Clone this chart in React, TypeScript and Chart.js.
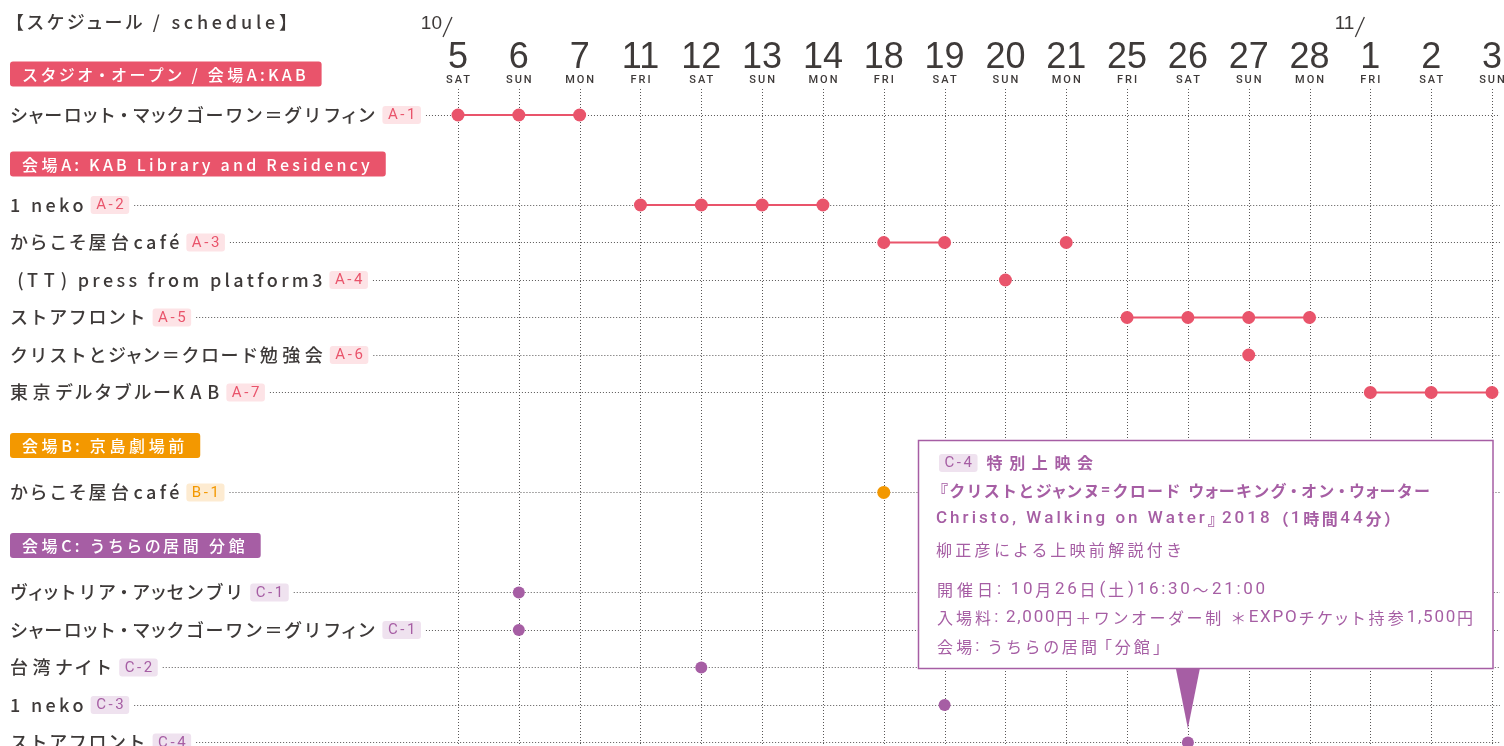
import React, { useEffect, useRef } from 'react';
import { Chart, registerables } from 'chart.js';

Chart.register(...registerables);

// ---------- data ----------
const dateKeys = ['10/5', '10/6', '10/7', '10/11', '10/12', '10/13', '10/14', '10/18', '10/19', '10/20', '10/21', '10/25', '10/26', '10/27', '10/28', '11/1', '11/2', '11/3'];
const weekdays = ['SAT', 'SUN', 'MON', 'FRI', 'SAT', 'SUN', 'MON', 'FRI', 'SAT', 'SUN', 'MON', 'FRI', 'SAT', 'SUN', 'MON', 'FRI', 'SAT', 'SUN'];

const scheduleTitle = '【スケジュール / schedule】';
const sectionTitles = ['スタジオ・オープン / 会場A:KAB', '会場A: KAB Library and Residency', '会場B: 京島劇場前', '会場C: うちらの居間 分館'];
const sectionVenues = ['A', 'A', 'B', 'C'];

const studioNames = ['シャーロット・マックゴーワン＝グリフィン'];
const studioCodes = ['A-1'];
const studioDates = [['10/5', '10/6', '10/7']];

const venueANames = ['1 neko', 'からこそ屋台café', ' (TT) press from platform3', 'ストアフロント', 'クリストとジャン＝クロード勉強会', '東京デルタブルーKAB'];
const venueACodes = ['A-2', 'A-3', 'A-4', 'A-5', 'A-6', 'A-7'];
const venueADates = [
  ['10/11', '10/12', '10/13', '10/14'],
  ['10/18', '10/19', '10/21'],
  ['10/20'],
  ['10/25', '10/26', '10/27', '10/28'],
  ['10/27'],
  ['11/1', '11/2', '11/3'],
];

const venueBNames = ['からこそ屋台café'];
const venueBCodes = ['B-1'];
const venueBDates = [['10/18']];

const venueCNames = ['ヴィットリア・アッセンブリ', 'シャーロット・マックゴーワン＝グリフィン', '台湾ナイト', '1 neko', 'ストアフロント'];
const venueCCodes = ['C-1', 'C-1', 'C-2', 'C-3', 'C-4'];
const venueCDates = [['10/6'], ['10/6'], ['10/12'], ['10/19'], ['10/26']];

const calloutCode = 'C-4';
const calloutDate = '10/26';
const calloutTitle = '特別上映会';
const calloutBold = ['『クリストとジャンヌ=クロード ウォーキング・オン・ウォーター', 'Christo, Walking on Water』2018（1時間44分）'];
const calloutNote = '柳正彦による上映前解説付き';
const calloutInfo = ['開催日: 10月26日(土)16:30～21:00', '入場料: 2,000円＋ワンオーダー制 ＊EXPOチケット持参1,500円', '会場: うちらの居間「分館」'];

// ---------- styles / layout ----------
const sectionNames = [studioNames, venueANames, venueBNames, venueCNames];
const sectionCodes = [studioCodes, venueACodes, venueBCodes, venueCCodes];
const sectionDates = [studioDates, venueADates, venueBDates, venueCDates];

const COLORS: Record<string, string> = { A: '#e9546b', B: '#f39800', C: '#a65ea4' };
const TAG_BG: Record<string, string> = { A: '#fde3e6', B: '#fdebd1', C: '#efe2ef' };
const TEXT = '#3e3a39';
const DOT = '#595757';
const JP = '"Noto Sans CJK JP", "Noto Sans", sans-serif';
const NUM = '"Liberation Sans", Arial, sans-serif';
const RB = 'Roboto, "Liberation Sans", sans-serif';

const SMALL = 'ァィゥェォャュョッヵヶぁぃぅぇぉゃゅょっ・';
const OPEN = '『「';
const CLOSE = '』」';

type Row = { kind: 'head' | 'item'; text: string; venue: string; pos: number; code?: string; dates?: string[] };

function buildRows(): Row[] {
  const rows: Row[] = [];
  let pos = 0;
  sectionTitles.forEach((t, s) => {
    const v = sectionVenues[s];
    if (s > 0) pos += s >= 2 ? 1.413 : 1.307;
    rows.push({ kind: 'head', text: t, venue: v, pos });
    pos += s >= 2 ? 1.253 : 1.093;
    sectionNames[s].forEach((n, i) => {
      if (i > 0) pos += 1;
      rows.push({ kind: 'item', text: n, venue: v, pos, code: sectionCodes[s][i], dates: sectionDates[s][i] });
    });
  });
  return rows;
}

type SpaceOpt = { cjkFont: string; latinFont: string; kanji: number; kana: number; latin: number; upper?: number; cut: number };

function charClass(ch: string): 'latin' | 'kanji' | 'kana' {
  const c = ch.charCodeAt(0);
  if (c < 0x2000) return 'latin';
  if (c >= 0x4e00 && c <= 0x9fff) return 'kanji';
  return 'kana';
}

function textRun(ctx: CanvasRenderingContext2D, text: string, x: number, y: number, o: SpaceOpt, draw = true, extra = 0): number {
  let cx = x;
  let last = 0;
  for (const ch of text) {
    const cls = charClass(ch);
    ctx.font = cls === 'latin' ? o.latinFont : o.cjkFont;
    const w = ctx.measureText(ch).width;
    let sp = cls === 'latin' ? o.latin : cls === 'kanji' ? o.kanji : o.kana;
    if (cls === 'latin' && o.upper && ch >= 'A' && ch <= 'Z') sp += o.upper;
    sp += extra;
    let adv = w + sp;
    let off = 0;
    if (SMALL.includes(ch)) { adv -= o.cut; off = -o.cut / 2; }
    else if (OPEN.includes(ch)) { adv -= o.cut; off = -o.cut; }
    else if (CLOSE.includes(ch)) { adv -= o.cut; }
    if (draw) ctx.fillText(ch, cx + off, y);
    cx += adv;
    last = sp;
  }
  return cx - x - last;
}

function fitRun(ctx: CanvasRenderingContext2D, text: string, x: number, y: number, o: SpaceOpt, endX: number) {
  const n = Array.from(text).length;
  const natural = textRun(ctx, text, x, y, o, false);
  const extra = n > 1 ? (endX - x - natural) / (n - 1) : 0;
  textRun(ctx, text, x, y, o, true, extra);
}

function roundRect(ctx: CanvasRenderingContext2D, x: number, y: number, w: number, h: number, r: number) {
  ctx.beginPath();
  ctx.moveTo(x + r, y);
  ctx.lineTo(x + w - r, y);
  ctx.quadraticCurveTo(x + w, y, x + w, y + r);
  ctx.lineTo(x + w, y + h - r);
  ctx.quadraticCurveTo(x + w, y + h, x + w - r, y + h);
  ctx.lineTo(x + r, y + h);
  ctx.quadraticCurveTo(x, y + h, x, y + h - r);
  ctx.lineTo(x, y + r);
  ctx.quadraticCurveTo(x, y, x + r, y);
  ctx.closePath();
}

const TAG_OPT: SpaceOpt = { cjkFont: `400 15px ${RB}`, latinFont: `400 15px ${RB}`, kanji: 0, kana: 0, latin: 2.6, cut: 0 };

function drawTag(ctx: CanvasRenderingContext2D, code: string, x: number, y: number, venue: string): number {
  const tw = textRun(ctx, code, 0, 0, TAG_OPT, false);
  const w = tw + 11;
  ctx.fillStyle = TAG_BG[venue];
  roundRect(ctx, x, y - 9, w, 18, 3);
  ctx.fill();
  ctx.fillStyle = COLORS[venue];
  textRun(ctx, code, x + 5.5, y + 0.5, TAG_OPT);
  return x + w;
}

const HEAD_OPT: SpaceOpt = { cjkFont: `500 16px ${JP}`, latinFont: `500 16px ${JP}`, kanji: 3.6, kana: 2.4, latin: 3.2, cut: 3 };
const LABEL_OPT: SpaceOpt = { cjkFont: `500 18px ${JP}`, latinFont: `500 18px ${JP}`, kanji: 4.5, kana: 1.6, latin: 3.3, upper: 2.5, cut: 5 };
const TITLE_OPT: SpaceOpt = { cjkFont: `500 18px ${JP}`, latinFont: `500 18px ${JP}`, kanji: 2, kana: 1.5, latin: 3, cut: 3 };
const C_BOLD: SpaceOpt = { cjkFont: `700 16px ${JP}`, latinFont: `500 17px ${RB}`, kanji: 1, kana: 0.6, latin: 1.6, cut: 4 };
const C_REG: SpaceOpt = { cjkFont: `400 16px ${JP}`, latinFont: `400 17px ${RB}`, kanji: 2.5, kana: 2, latin: 1.2, cut: 4 };
const C_TITLE: SpaceOpt = { cjkFont: `700 16px ${JP}`, latinFont: `700 16px ${JP}`, kanji: 4.5, kana: 4.5, latin: 2, cut: 0 };

const rows = buildRows();

const schedulePlugin = {
  id: 'schedule',
  beforeDatasetsDraw(chart: any) {
    const ctx: CanvasRenderingContext2D = chart.ctx;
    const xs = chart.scales.x;
    const ys = chart.scales.y;
    const W = chart.width;
    const H = chart.height;
    ctx.save();
    ctx.textBaseline = 'middle';
    ctx.textAlign = 'left';

    // title
    ctx.fillStyle = TEXT;
    fitRun(ctx, scheduleTitle, 6, 22, TITLE_OPT, 297);

    // date header
    let prevMonth = '';
    dateKeys.forEach((k, i) => {
      const x = xs.getPixelForValue(i);
      const [m, d] = k.split('/');
      ctx.fillStyle = TEXT;
      if (m !== prevMonth) {
        ctx.textAlign = 'right';
        ctx.textBaseline = 'alphabetic';
        ctx.font = `400 19px ${NUM}`;
        ctx.fillText(m, x - 16, 29);
        ctx.strokeStyle = TEXT;
        ctx.lineWidth = 1.3;
        ctx.beginPath();
        ctx.moveTo(x - 15, 37);
        ctx.lineTo(x - 6, 17);
        ctx.stroke();
        prevMonth = m;
      }
      ctx.textAlign = 'center';
      ctx.textBaseline = 'alphabetic';
      ctx.font = `400 36px ${NUM}`;
      ctx.fillText(d, x, 68);
      ctx.font = `500 11px ${RB}`;
      (ctx as any).letterSpacing = '2px';
      ctx.fillText(weekdays[i], x + 1, 83);
      (ctx as any).letterSpacing = '0px';
    });

    // vertical dotted grid
    ctx.strokeStyle = DOT;
    ctx.lineWidth = 1;
    ctx.setLineDash([1, 2]);
    dateKeys.forEach((_, i) => {
      const x = Math.round(xs.getPixelForValue(i)) + 0.5;
      ctx.beginPath();
      ctx.moveTo(x, 89);
      ctx.lineTo(x, H);
      ctx.stroke();
    });
    ctx.setLineDash([]);

    // rows
    ctx.textAlign = 'left';
    ctx.textBaseline = 'middle';
    rows.forEach((r) => {
      const y = ys.getPixelForValue(r.pos);
      if (r.kind === 'head') {
        const tw = textRun(ctx, r.text, 0, 0, HEAD_OPT, false);
        ctx.fillStyle = COLORS[r.venue];
        roundRect(ctx, 10, y - 12.5, tw + 28, 25, 3);
        ctx.fill();
        ctx.fillStyle = '#ffffff';
        textRun(ctx, r.text, 22, y + 0.5, HEAD_OPT);
      } else {
        ctx.fillStyle = TEXT;
        const tw = textRun(ctx, r.text, 10, y, LABEL_OPT);
        const end = drawTag(ctx, r.code as string, 10 + tw + 7, y, r.venue);
        ctx.strokeStyle = DOT;
        ctx.setLineDash([1, 2]);
        ctx.lineWidth = 1;
        const yy = Math.round(y) + 0.5;
        ctx.beginPath();
        ctx.moveTo(end + 5, yy);
        ctx.lineTo(W - 4, yy);
        ctx.stroke();
        ctx.setLineDash([]);
      }
    });
    ctx.restore();
  },
  afterDatasetsDraw(chart: any) {
    const ctx: CanvasRenderingContext2D = chart.ctx;
    const xs = chart.scales.x;
    const ys = chart.scales.y;
    const purple = COLORS.C;
    const target = rows.find((r) => r.code === calloutCode) as Row;
    const tipX = xs.getPixelForValue(dateKeys.indexOf(calloutDate));
    const tipY = ys.getPixelForValue(target.pos) - 14;
    const bx = 918.5, by = 440.5, bw = xs.right + 1 - 918.5, bh = 228;
    ctx.save();
    ctx.fillStyle = '#ffffff';
    ctx.fillRect(bx, by, bw, bh);
    ctx.strokeStyle = purple;
    ctx.lineWidth = 1.5;
    ctx.strokeRect(bx, by, bw, bh);
    ctx.fillStyle = purple;
    ctx.beginPath();
    ctx.moveTo(tipX - 12, by + bh);
    ctx.lineTo(tipX + 12, by + bh);
    ctx.lineTo(tipX, tipY);
    ctx.closePath();
    ctx.fill();

    ctx.textBaseline = 'middle';
    ctx.textAlign = 'left';
    const tagEnd = drawTag(ctx, calloutCode, 939, 463, 'C');
    ctx.fillStyle = purple;
    fitRun(ctx, calloutTitle, tagEnd + 9, 463, C_TITLE, 1093);
    fitRun(ctx, calloutBold[0], 936, 491, C_BOLD, 1430);
    fitRun(ctx, calloutBold[1], 936, 519, C_BOLD, 1400);
    fitRun(ctx, calloutNote, 936, 549.5, C_REG, 1182);
    const infoY = [590, 618, 646.5];
    const infoEnd = [1265, 1473, 1165];
    calloutInfo.forEach((t, i) => {
      fitRun(ctx, t, 937, infoY[i], C_REG, infoEnd[i]);
    });
    ctx.restore();
  },
};

export default function App() {
  const ref = useRef<HTMLCanvasElement | null>(null);
  useEffect(() => {
    if (!ref.current) return;
    const datasets = rows
      .filter((r) => r.kind === 'item')
      .map((r) => {
        const c = COLORS[r.venue];
        return {
          label: `${r.code} ${r.text}`,
          data: dateKeys.map((k) => ((r.dates as string[]).includes(k) ? r.pos : null)),
          borderColor: c,
          backgroundColor: c,
          pointBackgroundColor: c,
          pointBorderWidth: 0,
          pointRadius: r.venue === 'C' ? 6 : 6.5,
          pointHoverRadius: r.venue === 'C' ? 6 : 6.5,
          borderWidth: 2,
          spanGaps: false,
          clip: false as any,
        };
      });
    const chart = new Chart(ref.current, {
      type: 'line',
      data: { labels: dateKeys, datasets },
      options: {
        animation: false,
        responsive: false,
        events: [],
        layout: { autoPadding: false, padding: { left: 458, right: 12, top: 36.5, bottom: 0.75 } },
        scales: {
          x: { type: 'category', display: false, offset: false },
          y: { type: 'linear', display: false, reverse: true, min: -1, max: 17.9 },
        },
        plugins: { legend: { display: false }, tooltip: { enabled: false } },
      },
      plugins: [schedulePlugin],
    });
    return () => chart.destroy();
  }, []);
  return (
    <div style={{ position: 'absolute', left: 0, top: 0, width: 1504, height: 746, background: '#ffffff' }}>
      <canvas ref={ref} width={1504} height={746} style={{ width: 1504, height: 746, display: 'block' }} />
    </div>
  );
}
